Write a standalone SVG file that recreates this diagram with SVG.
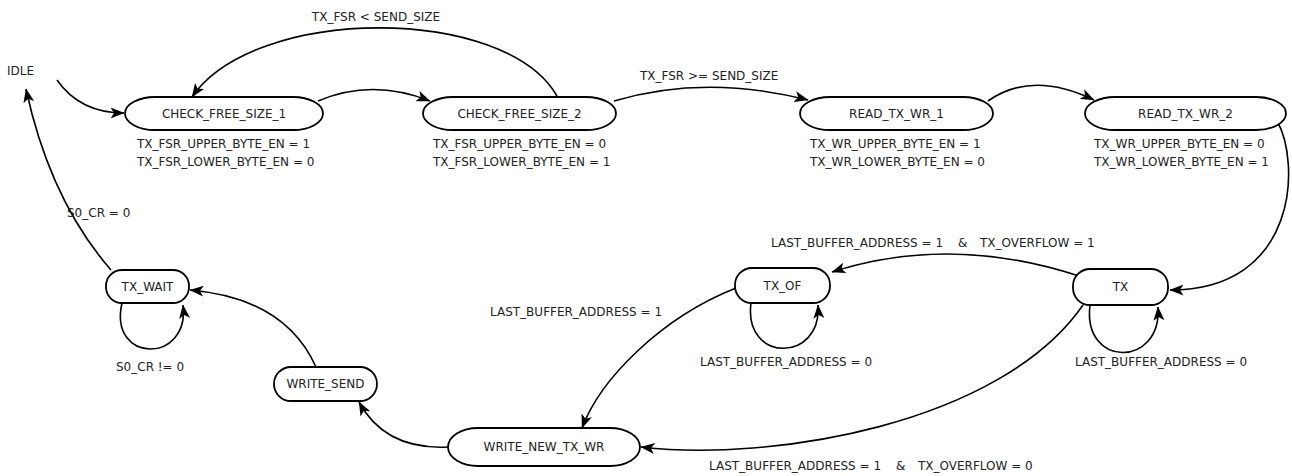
<svg xmlns="http://www.w3.org/2000/svg" width="1292" height="476" viewBox="0 0 1292 476">
  <style>
    text { font-family: "DejaVu Sans", "Liberation Sans", sans-serif; font-size: 12px; fill: #222; }
    .state { fill: #fff; stroke: #000; stroke-width: 1.8; }
    .name { text-anchor: middle; }
    .edge { fill: none; stroke: #000; stroke-width: 1.6; marker-end: url(#arrow); }
  </style>
  <defs>
    <marker id="arrow" viewBox="0 0 14 11" refX="13.5" refY="5.5" markerWidth="14" markerHeight="11" markerUnits="userSpaceOnUse" orient="auto">
      <path d="M0,0 L14,5.5 L0,11 L3.5,5.5 z" fill="#000"/>
    </marker>
  </defs>
  <rect width="1292" height="476" fill="#fff"/>

  <!-- transitions -->
  <g id="connectors">
    <path class="edge" d="M57,80 Q80,113 124,113"/>
    <path class="edge" d="M318,101 Q372,78 430,101"/>
    <path class="edge" d="M557,96 C505,5 255,5 192,97"/>
    <path class="edge" d="M614,101 Q705,74 808,100"/>
    <path class="edge" d="M988,101 Q1032,70 1094,100"/>
    <path class="edge" d="M1277,121 C1300,160 1300,290 1170,290"/>
    <path class="edge" d="M1079,276 Q950,234 832,272"/>
    <path class="edge" d="M1090,305 C1082,368 1162,368 1158,307"/>
    <path class="edge" d="M751,303 C743,363 822,363 818,305"/>
    <path class="edge" d="M736,288 C660,318 600,380 582,428"/>
    <path class="edge" d="M1083,305 C1000,425 770,462 641,447"/>
    <path class="edge" d="M448,447 Q385,450 359,402"/>
    <path class="edge" d="M316,367 Q285,298 190,290"/>
    <path class="edge" d="M122,303 C108,364 190,364 183,305"/>
    <path class="edge" d="M111,270 Q50,200 26,89"/>

    <text x="376" y="21" class="name">TX_FSR &lt; SEND_SIZE</text>
    <text x="640" y="80">TX_FSR &gt;= SEND_SIZE</text>
    <text y="247"><tspan x="771">LAST_BUFFER_ADDRESS = 1</tspan><tspan x="958">&amp;</tspan><tspan x="980">TX_OVERFLOW = 1</tspan></text>
    <text x="700" y="366">LAST_BUFFER_ADDRESS = 0</text>
    <text x="1075" y="366">LAST_BUFFER_ADDRESS = 0</text>
    <text x="490" y="316">LAST_BUFFER_ADDRESS = 1</text>
    <text y="470"><tspan x="709">LAST_BUFFER_ADDRESS = 1</tspan><tspan x="896">&amp;</tspan><tspan x="918">TX_OVERFLOW = 0</tspan></text>
    <text x="67" y="217">S0_CR = 0</text>
    <text x="116" y="371">S0_CR != 0</text>
  </g>

  <g id="IDLE">
    <text x="7" y="75">IDLE</text>
  </g>

  <g id="CHECK_FREE_SIZE_1">
    <rect class="state" x="125" y="97" width="198" height="33" rx="30" ry="16.5"/>
    <text class="name" x="224" y="118">CHECK_FREE_SIZE_1</text>
    <text x="137" y="148">TX_FSR_UPPER_BYTE_EN = 1</text>
    <text x="137" y="166">TX_FSR_LOWER_BYTE_EN = 0</text>
  </g>

  <g id="CHECK_FREE_SIZE_2">
    <rect class="state" x="423" y="97" width="193" height="33" rx="30" ry="16.5"/>
    <text class="name" x="519.5" y="118">CHECK_FREE_SIZE_2</text>
    <text x="433" y="148">TX_FSR_UPPER_BYTE_EN = 0</text>
    <text x="433" y="166">TX_FSR_LOWER_BYTE_EN = 1</text>
  </g>

  <g id="READ_TX_WR_1">
    <rect class="state" x="800" y="97" width="193" height="33" rx="30" ry="16.5"/>
    <text class="name" x="896.5" y="118">READ_TX_WR_1</text>
    <text x="810" y="148">TX_WR_UPPER_BYTE_EN = 1</text>
    <text x="810" y="166">TX_WR_LOWER_BYTE_EN = 0</text>
  </g>

  <g id="READ_TX_WR_2">
    <rect class="state" x="1085" y="97" width="201" height="33" rx="30" ry="16.5"/>
    <text class="name" x="1185.5" y="118">READ_TX_WR_2</text>
    <text x="1094" y="148">TX_WR_UPPER_BYTE_EN = 0</text>
    <text x="1094" y="166">TX_WR_LOWER_BYTE_EN = 1</text>
  </g>

  <g id="TX">
    <rect class="state" x="1073" y="269" width="95" height="36" rx="17" ry="17"/>
    <text class="name" x="1120.5" y="291">TX</text>
  </g>

  <g id="TX_OF">
    <rect class="state" x="735" y="268" width="95" height="35" rx="17" ry="17"/>
    <text class="name" x="782.5" y="290">TX_OF</text>
  </g>

  <g id="TX_WAIT">
    <rect class="state" x="106" y="270" width="83" height="33" rx="16" ry="16"/>
    <text class="name" x="147.5" y="291">TX_WAIT</text>
  </g>

  <g id="WRITE_SEND">
    <rect class="state" x="274" y="367" width="103" height="34" rx="17" ry="17"/>
    <text class="name" x="325.5" y="388">WRITE_SEND</text>
  </g>

  <g id="WRITE_NEW_TX_WR">
    <rect class="state" x="448" y="428" width="192" height="38" rx="30" ry="19"/>
    <text class="name" x="544" y="451">WRITE_NEW_TX_WR</text>
  </g>
</svg>
